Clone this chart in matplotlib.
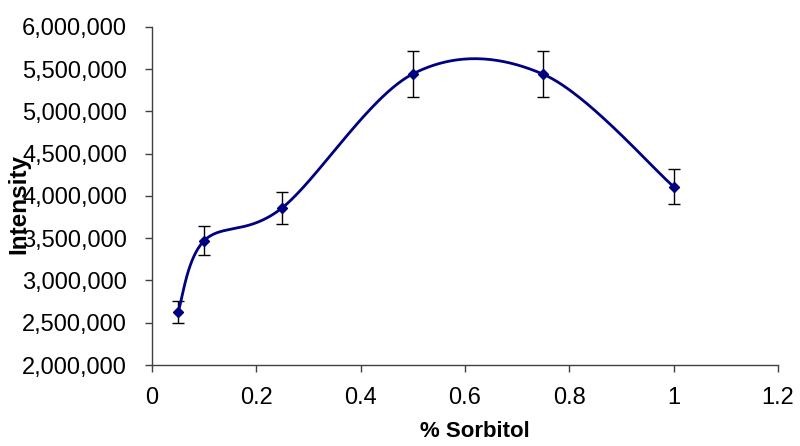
import numpy as np
import matplotlib
matplotlib.use("Agg")
import matplotlib.pyplot as plt
import matplotlib.ticker as tck

### Data ###
sorbitol  = [0.05, 0.1, 0.25, 0.5, 0.75, 1.0]
intensity = [2627000, 3471000, 3862000, 5444000, 5440000, 4110000]
error     = [130000, 174000, 190000, 272000, 272000, 205000]

x_ticks = [0, 0.2, 0.4, 0.6, 0.8, 1, 1.2]
x_tick_labels = ["0", "0.2", "0.4", "0.6", "0.8", "1", "1.2"]
y_ticks = [2000000, 2500000, 3000000, 3500000, 4000000, 4500000, 5000000, 5500000, 6000000]

line_color = "#000080"
font = {"family": "Liberation Sans"}


def smooth_curve(xs, ys, n=60):
    # Catmull-Rom style Bezier smoothing, like a spreadsheet "smoothed line"
    pts = np.column_stack([xs, ys]).astype(float)
    padded = np.vstack([pts[0], pts, pts[-1]])
    out = []
    t = np.linspace(0, 1, n)[:, None]
    for i in range(len(pts) - 1):
        p0, p1, p2, p3 = padded[i], padded[i + 1], padded[i + 2], padded[i + 3]
        c1 = p1 + (p2 - p0) / 6.0
        c2 = p2 - (p3 - p1) / 6.0
        seg = ((1 - t) ** 3) * p1 + 3 * ((1 - t) ** 2) * t * c1 + 3 * (1 - t) * t ** 2 * c2 + t ** 3 * p2
        out.append(seg if i == 0 else seg[1:])
    seg = np.vstack(out)
    return seg[:, 0], seg[:, 1]


fig = plt.figure(figsize=(8, 4.46), dpi=100)
ax = fig.add_axes([0.19, 0.1816, 0.7825, 0.758])

cx, cy = smooth_curve(sorbitol, intensity)
ax.plot(cx, cy, color=line_color, linewidth=2.0, zorder=3)
ax.errorbar(sorbitol, intensity, yerr=error, fmt="none", ecolor="black",
            elinewidth=1.0, capsize=4.3, capthick=1.0, zorder=2)
ax.plot(sorbitol, intensity, linestyle="none", marker="D", markersize=5.5,
        color=line_color, zorder=4)

ax.set_xlim(0, 1.2)
ax.set_ylim(2000000, 6000000)
ax.set_xticks(x_ticks)
ax.set_xticklabels(x_tick_labels)
ax.set_yticks(y_ticks)
ax.yaxis.set_major_formatter(tck.FuncFormatter(lambda v, p: f"{int(v):,}"))

for side in ("top", "right"):
    ax.spines[side].set_visible(False)
for side in ("left", "bottom"):
    ax.spines[side].set_color("#404040")
    ax.spines[side].set_linewidth(1.0)

ax.tick_params(direction="out", length=5, width=1, color="#404040",
               labelsize=17, labelcolor="black")
ax.tick_params(axis="y", pad=13)
ax.tick_params(axis="x", pad=11)
for lab in ax.get_xticklabels() + ax.get_yticklabels():
    lab.set_fontfamily(font["family"])

ax.set_xlabel("% Sorbitol", fontsize=16, fontweight="bold", va="center", **font)
ax.set_ylabel("Intensity", fontsize=17.5, fontweight="bold", va="center", **font)
ax.xaxis.set_label_coords(0.516, -0.198)
ax.yaxis.set_label_coords(-0.2125, 0.476)

fig.savefig("out.png", dpi=100)
plt.close(fig)
